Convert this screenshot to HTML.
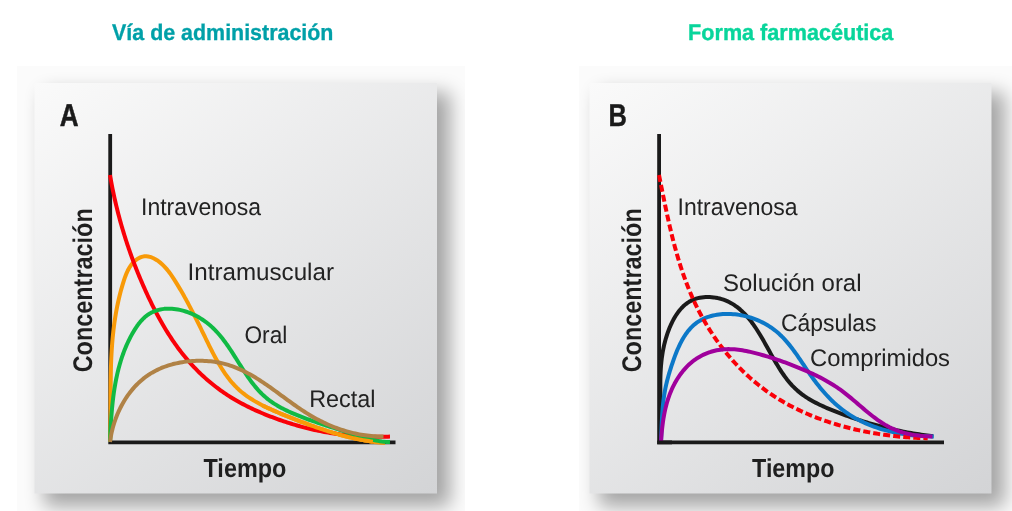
<!DOCTYPE html>
<html><head><meta charset="utf-8">
<style>
html,body{margin:0;padding:0;background:#fff;}
body{width:1012px;height:511px;overflow:hidden;font-family:"Liberation Sans",sans-serif;}
svg{display:block}
text{font-family:"Liberation Sans",sans-serif;text-rendering:geometricPrecision;}
</style></head><body>
<svg width="1012" height="511" viewBox="0 0 1012 511">
<defs>
<linearGradient id="pgA" gradientUnits="userSpaceOnUse" x1="34.5" y1="83" x2="365.7" y2="543.9">
<stop offset="0" stop-color="#fafafa"/>
<stop offset="1" stop-color="#d3d4d6"/>
</linearGradient>
<linearGradient id="pgB" gradientUnits="userSpaceOnUse" x1="589.5" y1="83" x2="920.7" y2="543.9">
<stop offset="0" stop-color="#fafafa"/>
<stop offset="1" stop-color="#d3d4d6"/>
</linearGradient>
<filter id="sh" x="-20%" y="-20%" width="140%" height="140%" color-interpolation-filters="sRGB">
<feGaussianBlur stdDeviation="9.5"/>
</filter>
<filter id="soft" x="-5%" y="-5%" width="110%" height="110%" color-interpolation-filters="sRGB"><feGaussianBlur stdDeviation="0.5"/></filter>
<clipPath id="clipA"><rect x="17" y="66" width="448" height="445"/></clipPath>
<clipPath id="clipB"><rect x="579" y="66" width="433" height="445"/></clipPath>
</defs>
<rect width="1012" height="511" fill="#ffffff"/>
<!-- titles -->
<g opacity="0.999">
<text x="112.1" y="39.5" font-size="22.5" font-weight="bold" fill="#00a0a8" stroke="#00a0a8" stroke-width="0.3" textLength="221.3" lengthAdjust="spacingAndGlyphs">Vía de administración</text>
<text x="688.1" y="39.5" font-size="22.5" font-weight="bold" fill="#08d59b" stroke="#08d59b" stroke-width="0.35" textLength="205.3" lengthAdjust="spacingAndGlyphs">Forma farmacéutica</text>
</g>

<!-- PANEL A -->
<g clip-path="url(#clipA)">
<rect x="17" y="66" width="448" height="445" fill="#fbfbfb"/>
<rect x="44" y="92.5" width="406" height="414" fill="#000" opacity="0.345" filter="url(#sh)"/>
<rect x="34.5" y="83" width="402.5" height="410.5" fill="url(#pgA)" filter="url(#soft)"/>
</g>
<!-- PANEL B -->
<g clip-path="url(#clipB)">
<rect x="579" y="66" width="433" height="445" fill="#fbfbfb"/>
<rect x="599" y="92.5" width="405.5" height="414" fill="#000" opacity="0.345" filter="url(#sh)"/>
<rect x="589.5" y="83" width="402" height="410.5" fill="url(#pgB)" filter="url(#soft)"/>
</g>
<g filter="url(#soft)">
<path d="M110.2 134 V444.3 M108.3 442.4 H395.5" stroke="#1a1a1a" stroke-width="3.8" fill="none"/>
<path d="M110.00 442.00 L110.06 439.97 L110.12 437.93 L110.17 435.90 L110.22 433.87 L110.26 431.84 L110.29 429.82 L110.33 427.79 L110.36 425.77 L110.38 423.75 L110.40 421.73 L110.42 419.71 L110.43 417.70 L110.45 415.68 L110.46 413.67 L110.47 411.66 L110.48 409.65 L110.48 407.64 L110.49 405.63 L110.50 403.63 L110.50 401.62 L110.51 399.62 L110.52 397.61 L110.52 395.61 L110.53 393.61 L110.55 391.61 L110.56 389.62 L110.57 387.62 L110.59 385.62 L110.61 383.63 L110.64 381.63 L110.66 379.64 L110.70 377.65 L110.73 375.66 L110.77 373.67 L110.82 371.68 L110.87 369.69 L110.92 367.70 L110.99 365.71 L111.06 363.72 L111.13 361.74 L111.21 359.75 L111.30 357.76 L111.40 355.78 L111.50 353.79 L111.62 351.81 L111.74 349.83 L111.87 347.84 L112.01 345.86 L112.16 343.88 L112.31 341.89 L112.48 339.91 L112.66 337.93 L112.85 335.95 L113.06 333.96 L113.27 331.98 L113.49 330.00 L113.73 328.02 L113.98 326.04 L114.24 324.06 L114.52 322.07 L114.81 320.09 L115.11 318.11 L115.43 316.13 L115.76 314.14 L116.11 312.16 L116.47 310.18 L116.85 308.20 L117.24 306.21 L117.65 304.23 L118.08 302.24 L118.52 300.26 L118.98 298.27 L119.46 296.29 L119.95 294.30 L120.46 292.31 L120.99 290.32 L121.54 288.34 L122.11 286.35 L122.70 284.36 L123.31 282.37 L123.94 280.38 L124.60 278.40 L125.30 276.44 L126.04 274.51 L126.84 272.61 L127.69 270.77 L128.62 268.98 L129.62 267.25 L130.70 265.60 L131.88 264.03 L133.16 262.56 L134.54 261.19 L136.03 259.94 L137.59 258.83 L139.24 257.90 L140.94 257.15 L142.69 256.62 L144.47 256.32 L146.28 256.27 L148.10 256.46 L149.92 256.87 L151.73 257.47 L153.52 258.25 L155.28 259.18 L156.99 260.23 L158.65 261.39 L160.24 262.64 L161.78 263.96 L163.25 265.36 L164.68 266.82 L166.05 268.34 L167.38 269.91 L168.66 271.52 L169.91 273.18 L171.12 274.87 L172.30 276.59 L173.45 278.32 L174.57 280.08 L175.67 281.83 L176.76 283.59 L177.82 285.35 L178.88 287.10 L179.92 288.86 L180.94 290.61 L181.95 292.36 L182.95 294.10 L183.94 295.85 L184.91 297.60 L185.88 299.34 L186.83 301.09 L187.78 302.83 L188.71 304.58 L189.64 306.33 L190.56 308.07 L191.47 309.82 L192.38 311.58 L193.28 313.33 L194.17 315.08 L195.06 316.84 L195.95 318.60 L196.83 320.37 L197.71 322.14 L198.59 323.91 L199.46 325.68 L200.34 327.46 L201.21 329.25 L202.08 331.04 L202.96 332.83 L203.83 334.63 L204.71 336.44 L205.59 338.25 L206.47 340.07 L207.36 341.89 L208.25 343.71 L209.15 345.54 L210.06 347.36 L210.97 349.19 L211.90 351.01 L212.83 352.83 L213.78 354.64 L214.74 356.44 L215.71 358.24 L216.69 360.02 L217.69 361.80 L218.71 363.56 L219.74 365.31 L220.80 367.04 L221.87 368.75 L222.96 370.45 L224.08 372.12 L225.21 373.78 L226.37 375.41 L227.56 377.02 L228.76 378.60 L230.00 380.15 L231.26 381.68 L232.55 383.18 L233.88 384.64 L235.23 386.07 L236.61 387.47 L238.02 388.83 L239.47 390.16 L240.95 391.45 L242.47 392.70 L244.01 393.92 L245.58 395.11 L247.18 396.26 L248.80 397.39 L250.45 398.48 L252.13 399.55 L253.83 400.59 L255.54 401.60 L257.28 402.60 L259.04 403.56 L260.81 404.51 L262.60 405.43 L264.41 406.34 L266.23 407.22 L268.06 408.09 L269.90 408.94 L271.76 409.78 L273.62 410.60 L275.49 411.42 L277.36 412.22 L279.24 413.01 L281.12 413.79 L283.01 414.56 L284.90 415.33 L286.78 416.09 L288.67 416.85 L290.55 417.60 L292.43 418.35 L294.31 419.10 L296.19 419.83 L298.07 420.57 L299.95 421.30 L301.83 422.02 L303.71 422.73 L305.59 423.44 L307.47 424.15 L309.35 424.84 L311.23 425.53 L313.11 426.21 L314.99 426.88 L316.87 427.54 L318.76 428.20 L320.64 428.84 L322.53 429.48 L324.42 430.10 L326.31 430.72 L328.20 431.32 L330.10 431.92 L332.00 432.50 L333.90 433.07 L335.81 433.64 L337.72 434.18 L339.63 434.72 L341.54 435.25 L343.46 435.76 L345.39 436.26 L347.31 436.74 L349.25 437.21 L351.18 437.67 L353.12 438.11 L355.07 438.54 L357.02 438.95 L358.98 439.35 L360.94 439.74 L362.91 440.10 L364.89 440.45 L366.87 440.79 L368.85 441.10 L370.85 441.40 L372.85 441.69 L374.85 441.95 L376.87 442.20 L378.89 442.43 L380.92 442.64 L382.96 442.83 L385.00 443.00" fill="none" stroke="#f89a08" stroke-width="4.0" stroke-linejoin="round" />
<path d="M110.00 175.00 L110.34 176.98 L110.69 178.95 L111.04 180.92 L111.41 182.89 L111.78 184.86 L112.16 186.83 L112.55 188.79 L112.95 190.75 L113.36 192.71 L113.77 194.67 L114.20 196.62 L114.63 198.58 L115.07 200.53 L115.52 202.48 L115.98 204.43 L116.44 206.37 L116.92 208.31 L117.40 210.25 L117.89 212.19 L118.39 214.13 L118.89 216.06 L119.41 217.99 L119.93 219.92 L120.46 221.85 L121.00 223.77 L121.55 225.70 L122.11 227.62 L122.67 229.53 L123.25 231.45 L123.83 233.36 L124.41 235.27 L125.01 237.18 L125.62 239.08 L126.23 240.99 L126.85 242.89 L127.48 244.78 L128.12 246.68 L128.76 248.57 L129.42 250.46 L130.08 252.35 L130.75 254.23 L131.42 256.11 L132.11 257.99 L132.80 259.87 L133.50 261.74 L134.21 263.61 L134.93 265.48 L135.65 267.34 L136.38 269.20 L137.12 271.06 L137.87 272.92 L138.63 274.77 L139.39 276.62 L140.16 278.47 L140.94 280.32 L141.73 282.16 L142.53 284.00 L143.33 285.83 L144.14 287.67 L144.96 289.50 L145.78 291.32 L146.62 293.15 L147.46 294.97 L148.31 296.78 L149.17 298.60 L150.03 300.41 L150.91 302.21 L151.79 304.01 L152.69 305.81 L153.59 307.60 L154.50 309.39 L155.43 311.17 L156.36 312.95 L157.30 314.72 L158.26 316.49 L159.22 318.26 L160.19 320.01 L161.18 321.76 L162.17 323.51 L163.18 325.25 L164.20 326.98 L165.23 328.70 L166.27 330.42 L167.33 332.13 L168.40 333.83 L169.48 335.52 L170.57 337.20 L171.67 338.88 L172.79 340.54 L173.92 342.19 L175.07 343.84 L176.22 345.47 L177.40 347.09 L178.58 348.70 L179.78 350.30 L181.00 351.89 L182.23 353.46 L183.47 355.03 L184.73 356.57 L186.00 358.11 L187.29 359.63 L188.59 361.14 L189.91 362.64 L191.24 364.12 L192.59 365.59 L193.95 367.04 L195.32 368.48 L196.71 369.91 L198.12 371.32 L199.53 372.72 L200.96 374.10 L202.41 375.46 L203.87 376.81 L205.34 378.14 L206.83 379.46 L208.33 380.76 L209.85 382.05 L211.38 383.32 L212.92 384.57 L214.48 385.80 L216.05 387.02 L217.64 388.22 L219.23 389.41 L220.85 390.57 L222.47 391.72 L224.11 392.85 L225.76 393.96 L227.43 395.06 L229.11 396.13 L230.80 397.19 L232.50 398.23 L234.21 399.26 L235.94 400.26 L237.68 401.26 L239.42 402.23 L241.18 403.19 L242.95 404.13 L244.73 405.06 L246.51 405.97 L248.31 406.87 L250.11 407.75 L251.92 408.62 L253.74 409.47 L255.57 410.31 L257.41 411.13 L259.25 411.94 L261.10 412.74 L262.95 413.52 L264.81 414.29 L266.68 415.05 L268.55 415.79 L270.43 416.52 L272.31 417.24 L274.19 417.95 L276.08 418.64 L277.97 419.33 L279.87 420.00 L281.77 420.66 L283.67 421.31 L285.58 421.94 L287.49 422.56 L289.40 423.17 L291.32 423.77 L293.23 424.36 L295.16 424.93 L297.08 425.49 L299.01 426.04 L300.94 426.57 L302.87 427.09 L304.81 427.60 L306.74 428.09 L308.69 428.57 L310.63 429.04 L312.57 429.49 L314.52 429.93 L316.47 430.36 L318.42 430.77 L320.38 431.16 L322.33 431.55 L324.29 431.92 L326.25 432.28 L328.21 432.62 L330.18 432.95 L332.15 433.26 L334.11 433.56 L336.09 433.85 L338.06 434.13 L340.03 434.38 L342.01 434.63 L343.99 434.86 L345.97 435.08 L347.96 435.28 L349.94 435.47 L351.93 435.65 L353.92 435.81 L355.91 435.96 L357.90 436.10 L359.90 436.22 L361.89 436.34 L363.89 436.43 L365.89 436.52 L367.89 436.59 L369.89 436.65 L371.90 436.70 L373.90 436.73 L375.91 436.76 L377.92 436.77 L379.93 436.77 L381.94 436.76 L383.95 436.74 L385.97 436.70 L387.98 436.66 L390.00 436.60" fill="none" stroke="#fa0008" stroke-width="4.0" stroke-linejoin="round" />
<path d="M110.00 442.00 L110.08 440.01 L110.16 438.02 L110.25 436.03 L110.34 434.03 L110.43 432.03 L110.53 430.03 L110.63 428.03 L110.74 426.02 L110.86 424.02 L110.98 422.01 L111.11 420.00 L111.25 418.00 L111.39 415.99 L111.55 413.98 L111.71 411.98 L111.88 409.97 L112.07 407.97 L112.26 405.96 L112.46 403.96 L112.68 401.96 L112.91 399.97 L113.15 397.97 L113.40 395.98 L113.67 393.99 L113.95 392.01 L114.25 390.03 L114.56 388.05 L114.89 386.08 L115.23 384.11 L115.59 382.15 L115.96 380.19 L116.35 378.24 L116.76 376.29 L117.19 374.35 L117.64 372.42 L118.11 370.49 L118.59 368.57 L119.10 366.66 L119.63 364.75 L120.17 362.86 L120.74 360.97 L121.33 359.09 L121.95 357.22 L122.59 355.35 L123.25 353.50 L123.93 351.65 L124.65 349.81 L125.39 347.98 L126.16 346.15 L126.96 344.31 L127.80 342.48 L128.67 340.65 L129.58 338.81 L130.53 336.96 L131.51 335.11 L132.54 333.26 L133.61 331.42 L134.72 329.59 L135.87 327.80 L137.07 326.04 L138.31 324.34 L139.60 322.68 L140.93 321.09 L142.32 319.58 L143.74 318.15 L145.22 316.81 L146.75 315.58 L148.32 314.45 L149.94 313.43 L151.61 312.52 L153.32 311.71 L155.06 310.99 L156.84 310.38 L158.65 309.86 L160.48 309.44 L162.35 309.11 L164.24 308.86 L166.14 308.71 L168.07 308.64 L170.01 308.65 L171.96 308.75 L173.91 308.92 L175.88 309.17 L177.84 309.49 L179.81 309.89 L181.77 310.35 L183.72 310.89 L185.67 311.49 L187.60 312.15 L189.52 312.87 L191.42 313.66 L193.29 314.49 L195.15 315.39 L196.97 316.34 L198.77 317.33 L200.53 318.38 L202.26 319.47 L203.95 320.61 L205.60 321.78 L207.20 323.00 L208.76 324.26 L210.29 325.55 L211.77 326.87 L213.22 328.24 L214.63 329.63 L216.01 331.05 L217.35 332.51 L218.67 333.99 L219.96 335.49 L221.22 337.03 L222.46 338.58 L223.68 340.16 L224.87 341.75 L226.05 343.37 L227.21 345.01 L228.35 346.65 L229.48 348.32 L230.60 350.00 L231.70 351.68 L232.80 353.38 L233.89 355.09 L234.98 356.81 L236.06 358.52 L237.14 360.25 L238.22 361.97 L239.30 363.70 L240.38 365.43 L241.47 367.15 L242.56 368.86 L243.67 370.57 L244.78 372.28 L245.90 373.97 L247.03 375.64 L248.18 377.31 L249.34 378.96 L250.52 380.59 L251.72 382.20 L252.94 383.78 L254.17 385.35 L255.44 386.89 L256.72 388.40 L258.03 389.89 L259.37 391.34 L260.74 392.76 L262.14 394.15 L263.58 395.50 L265.04 396.81 L266.54 398.08 L268.08 399.32 L269.65 400.51 L271.25 401.66 L272.88 402.78 L274.54 403.87 L276.23 404.92 L277.94 405.94 L279.67 406.93 L281.43 407.89 L283.20 408.83 L284.99 409.73 L286.80 410.62 L288.62 411.48 L290.45 412.31 L292.29 413.13 L294.14 413.93 L296.00 414.71 L297.86 415.47 L299.72 416.22 L301.59 416.95 L303.47 417.67 L305.35 418.37 L307.23 419.07 L309.12 419.75 L311.00 420.42 L312.90 421.08 L314.79 421.73 L316.69 422.37 L318.59 423.01 L320.49 423.64 L322.40 424.26 L324.31 424.88 L326.21 425.50 L328.12 426.11 L330.03 426.72 L331.94 427.32 L333.85 427.93 L335.76 428.54 L337.67 429.15 L339.58 429.75 L341.49 430.37 L343.39 430.98 L345.30 431.60 L347.20 432.23 L349.11 432.85 L351.01 433.48 L352.91 434.11 L354.82 434.73 L356.72 435.34 L358.63 435.95 L360.54 436.54 L362.46 437.12 L364.37 437.68 L366.30 438.21 L368.23 438.73 L370.16 439.22 L372.10 439.68 L374.05 440.11 L376.01 440.50 L377.98 440.86 L379.95 441.18 L381.94 441.46 L383.94 441.69 L385.95 441.88 L387.97 442.02 L390.00 442.10" fill="none" stroke="#10ba44" stroke-width="4.0" stroke-linejoin="round" />
<path d="M262.60 405.43 L264.41 406.34 L266.23 407.22 L268.06 408.09 L269.90 408.94 L271.76 409.78 L273.62 410.60 L275.49 411.42 L277.36 412.22 L279.24 413.01 L281.12 413.79 L283.01 414.56 L284.90 415.33 L286.78 416.09 L288.67 416.85 L290.55 417.60 L292.43 418.35 L294.31 419.10 L296.19 419.83 L298.07 420.57 L299.95 421.30 L301.83 422.02 L303.71 422.73 L305.59 423.44 L307.47 424.15 L309.35 424.84 L311.23 425.53 L313.11 426.21 L314.99 426.88 L316.87 427.54 L318.76 428.20 L320.64 428.84 L322.53 429.48 L324.42 430.10 L326.31 430.72 L328.20 431.32 L330.10 431.92 L332.00 432.50 L333.90 433.07 L335.81 433.64 L337.72 434.18 L339.63 434.72 L341.54 435.25 L343.46 435.76 L345.39 436.26 L347.31 436.74 L349.25 437.21 L351.18 437.67 L353.12 438.11 L355.07 438.54 L357.02 438.95 L358.98 439.35 L360.94 439.74 L362.91 440.10 L364.89 440.45 L366.87 440.79 L368.85 441.10 L370.85 441.40 L372.85 441.69" fill="none" stroke="#f89a08" stroke-width="4.0" stroke-linejoin="round" />
<path d="M110.00 442.00 L110.27 440.03 L110.58 438.06 L110.92 436.10 L111.30 434.13 L111.72 432.17 L112.18 430.21 L112.67 428.26 L113.21 426.31 L113.77 424.38 L114.38 422.45 L115.02 420.53 L115.70 418.63 L116.42 416.73 L117.17 414.86 L117.95 412.99 L118.78 411.14 L119.63 409.31 L120.53 407.50 L121.46 405.71 L122.42 403.94 L123.42 402.19 L124.45 400.47 L125.52 398.76 L126.62 397.09 L127.76 395.44 L128.93 393.82 L130.13 392.23 L131.37 390.67 L132.64 389.14 L133.94 387.64 L135.28 386.18 L136.65 384.75 L138.05 383.36 L139.49 382.00 L140.96 380.68 L142.46 379.41 L143.99 378.17 L145.55 376.98 L147.15 375.83 L148.78 374.72 L150.44 373.66 L152.12 372.64 L153.84 371.67 L155.59 370.74 L157.36 369.86 L159.15 369.02 L160.97 368.22 L162.81 367.46 L164.68 366.75 L166.56 366.08 L168.47 365.45 L170.39 364.86 L172.32 364.31 L174.28 363.81 L176.25 363.34 L178.23 362.92 L180.22 362.53 L182.22 362.18 L184.24 361.88 L186.26 361.61 L188.29 361.37 L190.32 361.18 L192.36 361.03 L194.40 360.91 L196.45 360.83 L198.50 360.79 L200.54 360.79 L202.58 360.82 L204.62 360.90 L206.66 361.01 L208.69 361.17 L210.71 361.36 L212.72 361.59 L214.72 361.87 L216.71 362.18 L218.69 362.54 L220.65 362.94 L222.59 363.38 L224.52 363.86 L226.43 364.38 L228.33 364.94 L230.20 365.54 L232.06 366.18 L233.91 366.85 L235.74 367.56 L237.56 368.30 L239.36 369.08 L241.14 369.89 L242.92 370.72 L244.68 371.59 L246.43 372.49 L248.17 373.41 L249.90 374.35 L251.62 375.32 L253.33 376.32 L255.03 377.33 L256.72 378.37 L258.41 379.42 L260.08 380.49 L261.75 381.58 L263.41 382.69 L265.07 383.81 L266.72 384.94 L268.37 386.08 L270.01 387.24 L271.65 388.40 L273.29 389.57 L274.92 390.75 L276.55 391.94 L278.19 393.13 L279.81 394.32 L281.44 395.51 L283.07 396.71 L284.70 397.90 L286.33 399.10 L287.97 400.29 L289.60 401.48 L291.24 402.66 L292.88 403.83 L294.53 405.00 L296.18 406.16 L297.83 407.30 L299.50 408.44 L301.16 409.57 L302.84 410.68 L304.52 411.77 L306.21 412.85 L307.90 413.91 L309.61 414.95 L311.33 415.97 L313.05 416.98 L314.79 417.96 L316.53 418.92 L318.29 419.85 L320.05 420.77 L321.83 421.66 L323.61 422.53 L325.40 423.38 L327.21 424.20 L329.02 425.00 L330.84 425.78 L332.67 426.53 L334.51 427.25 L336.37 427.96 L338.22 428.63 L340.09 429.29 L341.97 429.91 L343.86 430.51 L345.76 431.09 L347.66 431.63 L349.58 432.15 L351.50 432.65 L353.43 433.11 L355.38 433.55 L357.33 433.96 L359.29 434.34 L361.26 434.70 L363.24 435.02 L365.22 435.31 L367.22 435.58 L369.22 435.81 L371.24 436.02 L373.26 436.19 L375.29 436.34 L377.33 436.45 L379.38 436.53 L381.44 436.58 L383.50 436.60" fill="none" stroke="#b08246" stroke-width="4.0" stroke-linejoin="round" />
<text x="59.7" y="125.7" font-size="31.5" font-weight="bold" fill="#1a1a1a" stroke="#1a1a1a" stroke-width="0.5" textLength="18.85" lengthAdjust="spacingAndGlyphs">A</text>
<text x="141" y="215.2" font-size="24" fill="#222" textLength="120" lengthAdjust="spacingAndGlyphs">Intravenosa</text>
<text x="187.5" y="279.7" font-size="24" fill="#222" textLength="146.5" lengthAdjust="spacingAndGlyphs">Intramuscular</text>
<text x="244.5" y="342.5" font-size="24" fill="#222" textLength="42.8" lengthAdjust="spacingAndGlyphs">Oral</text>
<text x="309.2" y="407.3" font-size="24" fill="#222" textLength="66.3" lengthAdjust="spacingAndGlyphs">Rectal</text>
<text transform="translate(92.3 372.3) rotate(-90)" font-size="27" font-weight="bold" fill="#1f1f1f" textLength="164" lengthAdjust="spacingAndGlyphs">Concentración</text>
<text x="203.5" y="477" font-size="26" font-weight="bold" fill="#1f1f1f" textLength="82.8" lengthAdjust="spacingAndGlyphs">Tiempo</text>
</g>
<g filter="url(#soft)">
<path d="M659.1 134 V444.3 M657.2 442.4 H944" stroke="#1a1a1a" stroke-width="3.8" fill="none"/>
<path d="M660.50 442.00 L660.63 439.98 L660.73 437.95 L660.82 435.93 L660.89 433.91 L660.95 431.90 L660.99 429.88 L661.02 427.87 L661.03 425.85 L661.03 423.84 L661.02 421.83 L661.01 419.83 L660.98 417.82 L660.94 415.82 L660.90 413.81 L660.86 411.81 L660.81 409.81 L660.76 407.81 L660.71 405.82 L660.65 403.82 L660.60 401.83 L660.54 399.84 L660.50 397.84 L660.45 395.86 L660.41 393.87 L660.37 391.88 L660.35 389.90 L660.33 387.91 L660.32 385.93 L660.32 383.95 L660.33 381.97 L660.35 379.99 L660.39 378.02 L660.45 376.04 L660.52 374.07 L660.60 372.10 L660.71 370.13 L660.83 368.16 L660.98 366.19 L661.14 364.22 L661.33 362.26 L661.54 360.29 L661.78 358.33 L662.04 356.37 L662.34 354.41 L662.65 352.45 L663.00 350.49 L663.38 348.54 L663.79 346.58 L664.23 344.63 L664.71 342.67 L665.22 340.72 L665.77 338.77 L666.36 336.82 L666.98 334.88 L667.64 332.93 L668.34 330.98 L669.09 329.04 L669.87 327.11 L670.70 325.19 L671.58 323.29 L672.50 321.42 L673.47 319.57 L674.48 317.77 L675.54 316.00 L676.66 314.28 L677.82 312.62 L679.03 311.01 L680.30 309.47 L681.62 307.99 L683.00 306.59 L684.43 305.27 L685.92 304.04 L687.46 302.89 L689.07 301.85 L690.73 300.90 L692.45 300.06 L694.23 299.33 L696.06 298.70 L697.93 298.17 L699.84 297.75 L701.78 297.42 L703.74 297.19 L705.73 297.05 L707.73 297.00 L709.73 297.04 L711.75 297.18 L713.75 297.39 L715.75 297.70 L717.74 298.08 L719.70 298.55 L721.64 299.09 L723.54 299.71 L725.41 300.41 L727.23 301.18 L729.01 302.02 L730.74 302.92 L732.43 303.89 L734.08 304.93 L735.69 306.03 L737.25 307.18 L738.78 308.39 L740.27 309.65 L741.73 310.96 L743.15 312.32 L744.54 313.73 L745.90 315.18 L747.23 316.66 L748.52 318.19 L749.79 319.75 L751.04 321.35 L752.25 322.97 L753.45 324.62 L754.62 326.30 L755.77 328.00 L756.89 329.72 L758.00 331.46 L759.09 333.22 L760.17 334.98 L761.23 336.76 L762.27 338.54 L763.30 340.33 L764.32 342.12 L765.33 343.92 L766.33 345.71 L767.33 347.50 L768.32 349.29 L769.31 351.08 L770.29 352.86 L771.28 354.64 L772.27 356.41 L773.26 358.17 L774.25 359.92 L775.26 361.65 L776.27 363.38 L777.29 365.09 L778.32 366.79 L779.37 368.47 L780.43 370.14 L781.51 371.78 L782.60 373.41 L783.72 375.01 L784.86 376.59 L786.02 378.15 L787.20 379.68 L788.42 381.19 L789.66 382.67 L790.93 384.12 L792.23 385.54 L793.56 386.92 L794.94 388.28 L796.34 389.60 L797.79 390.89 L799.27 392.14 L800.80 393.35 L802.36 394.53 L803.95 395.68 L805.58 396.79 L807.25 397.88 L808.94 398.93 L810.66 399.95 L812.40 400.95 L814.17 401.92 L815.96 402.86 L817.77 403.78 L819.60 404.68 L821.45 405.56 L823.30 406.41 L825.18 407.25 L827.06 408.07 L828.95 408.87 L830.85 409.66 L832.75 410.43 L834.65 411.19 L836.56 411.93 L838.46 412.67 L840.36 413.40 L842.26 414.11 L844.16 414.82 L846.06 415.51 L847.96 416.20 L849.85 416.87 L851.75 417.54 L853.64 418.19 L855.54 418.84 L857.43 419.47 L859.33 420.09 L861.23 420.71 L863.12 421.31 L865.02 421.90 L866.92 422.49 L868.82 423.06 L870.72 423.62 L872.62 424.17 L874.52 424.71 L876.42 425.24 L878.33 425.77 L880.24 426.28 L882.15 426.78 L884.06 427.27 L885.98 427.75 L887.90 428.22 L889.82 428.68 L891.74 429.13 L893.67 429.57 L895.60 429.99 L897.54 430.41 L899.48 430.82 L901.42 431.22 L903.37 431.61 L905.32 431.98 L907.28 432.35 L909.24 432.71 L911.20 433.06 L913.17 433.39 L915.15 433.72 L917.13 434.04 L919.12 434.34 L921.11 434.64 L923.11 434.92 L925.12 435.20 L927.13 435.47 L929.14 435.72 L931.17 435.97 L933.20 436.20" fill="none" stroke="#1a1a1a" stroke-width="4.0" stroke-linejoin="round" />
<path d="M661.00 442.00 L661.09 439.97 L661.17 437.93 L661.24 435.90 L661.32 433.87 L661.40 431.85 L661.47 429.82 L661.55 427.80 L661.63 425.77 L661.72 423.76 L661.81 421.74 L661.91 419.73 L662.02 417.72 L662.13 415.71 L662.26 413.71 L662.40 411.72 L662.55 409.72 L662.71 407.74 L662.89 405.75 L663.09 403.78 L663.31 401.81 L663.54 399.84 L663.80 397.88 L664.07 395.93 L664.37 393.98 L664.70 392.05 L665.05 390.12 L665.42 388.19 L665.82 386.27 L666.25 384.36 L666.70 382.45 L667.17 380.54 L667.67 378.64 L668.19 376.73 L668.73 374.82 L669.29 372.91 L669.87 371.00 L670.47 369.08 L671.08 367.15 L671.72 365.21 L672.37 363.26 L673.04 361.31 L673.73 359.35 L674.44 357.38 L675.17 355.42 L675.92 353.47 L676.70 351.53 L677.51 349.60 L678.35 347.68 L679.22 345.79 L680.12 343.92 L681.05 342.08 L682.02 340.28 L683.03 338.50 L684.08 336.77 L685.17 335.08 L686.30 333.44 L687.48 331.85 L688.70 330.32 L689.98 328.84 L691.30 327.42 L692.67 326.07 L694.09 324.79 L695.57 323.58 L697.11 322.45 L698.70 321.39 L700.34 320.41 L702.03 319.51 L703.77 318.67 L705.54 317.91 L707.35 317.22 L709.20 316.60 L711.08 316.04 L713.00 315.56 L714.93 315.14 L716.89 314.78 L718.87 314.49 L720.87 314.27 L722.88 314.10 L724.90 314.00 L726.93 313.95 L728.96 313.97 L731.00 314.04 L733.03 314.17 L735.07 314.35 L737.09 314.59 L739.12 314.89 L741.13 315.24 L743.14 315.64 L745.13 316.09 L747.11 316.59 L749.08 317.15 L751.03 317.75 L752.97 318.41 L754.88 319.11 L756.78 319.86 L758.65 320.66 L760.50 321.50 L762.33 322.39 L764.12 323.32 L765.89 324.30 L767.63 325.32 L769.33 326.38 L771.01 327.49 L772.64 328.64 L774.24 329.82 L775.80 331.05 L777.33 332.31 L778.81 333.61 L780.26 334.94 L781.68 336.31 L783.06 337.71 L784.42 339.14 L785.74 340.60 L787.04 342.08 L788.32 343.59 L789.57 345.13 L790.81 346.68 L792.02 348.25 L793.22 349.85 L794.40 351.46 L795.57 353.08 L796.72 354.71 L797.87 356.36 L799.01 358.02 L800.14 359.69 L801.27 361.36 L802.40 363.03 L803.52 364.71 L804.65 366.39 L805.78 368.07 L806.92 369.75 L808.06 371.43 L809.21 373.10 L810.37 374.76 L811.54 376.41 L812.73 378.06 L813.93 379.69 L815.14 381.31 L816.36 382.92 L817.60 384.52 L818.85 386.10 L820.12 387.67 L821.41 389.22 L822.71 390.76 L824.03 392.28 L825.36 393.78 L826.71 395.26 L828.08 396.72 L829.46 398.16 L830.87 399.58 L832.29 400.97 L833.74 402.35 L835.20 403.69 L836.68 405.02 L838.19 406.31 L839.71 407.58 L841.26 408.82 L842.83 410.03 L844.42 411.22 L846.04 412.37 L847.67 413.49 L849.33 414.58 L851.01 415.64 L852.71 416.67 L854.43 417.68 L856.17 418.65 L857.93 419.59 L859.71 420.50 L861.50 421.39 L863.31 422.25 L865.14 423.08 L866.98 423.88 L868.83 424.65 L870.70 425.40 L872.58 426.12 L874.48 426.81 L876.38 427.47 L878.30 428.11 L880.23 428.73 L882.17 429.32 L884.12 429.88 L886.07 430.41 L888.03 430.93 L890.01 431.41 L891.98 431.88 L893.97 432.32 L895.95 432.73 L897.95 433.12 L899.94 433.49 L901.94 433.83 L903.94 434.15 L905.95 434.45 L907.95 434.73 L909.95 434.98 L911.96 435.22 L913.96 435.43 L915.96 435.62 L917.96 435.78 L919.96 435.93 L921.95 436.06 L923.94 436.16 L925.93 436.25 L927.91 436.32 L929.88 436.36 L931.84 436.39 L933.80 436.40" fill="none" stroke="#0c78c8" stroke-width="4.0" stroke-linejoin="round" />
<path d="M659.00 175.00 L659.39 176.92 L659.78 178.84 L660.16 180.76 L660.55 182.69 L660.94 184.62 L661.32 186.55 L661.71 188.49 L662.10 190.43 L662.50 192.37 L662.89 194.32 L663.28 196.26 L663.68 198.21 L664.08 200.16 L664.48 202.12 L664.89 204.07 L665.30 206.03 L665.71 207.99 L666.13 209.95 L666.54 211.91 L666.97 213.87 L667.39 215.84 L667.83 217.80 L668.26 219.76 L668.70 221.73 L669.15 223.69 L669.60 225.65 L670.06 227.62 L670.52 229.58 L670.99 231.54 L671.46 233.51 L671.94 235.47 L672.43 237.43 L672.92 239.39 L673.43 241.34 L673.93 243.30 L674.45 245.25 L674.97 247.20 L675.51 249.15 L676.05 251.10 L676.60 253.05 L677.15 254.99 L677.72 256.93 L678.29 258.87 L678.88 260.80 L679.47 262.73 L680.08 264.66 L680.69 266.58 L681.32 268.50 L681.95 270.42 L682.60 272.33 L683.25 274.24 L683.92 276.14 L684.60 278.04 L685.29 279.93 L685.99 281.82 L686.70 283.70 L687.43 285.58 L688.17 287.45 L688.92 289.32 L689.68 291.18 L690.46 293.04 L691.25 294.89 L692.06 296.73 L692.87 298.57 L693.71 300.40 L694.55 302.22 L695.41 304.04 L696.29 305.85 L697.17 307.65 L698.07 309.44 L698.99 311.23 L699.92 313.01 L700.86 314.78 L701.82 316.54 L702.79 318.30 L703.77 320.05 L704.77 321.78 L705.78 323.51 L706.81 325.24 L707.85 326.95 L708.90 328.65 L709.96 330.34 L711.04 332.03 L712.14 333.70 L713.24 335.37 L714.36 337.02 L715.49 338.67 L716.64 340.30 L717.80 341.93 L718.97 343.54 L720.16 345.14 L721.36 346.74 L722.57 348.32 L723.79 349.89 L725.03 351.45 L726.28 352.99 L727.55 354.53 L728.83 356.05 L730.12 357.56 L731.42 359.06 L732.74 360.55 L734.06 362.03 L735.41 363.49 L736.76 364.94 L738.13 366.38 L739.51 367.80 L740.90 369.21 L742.31 370.61 L743.73 371.99 L745.16 373.36 L746.60 374.72 L748.06 376.06 L749.53 377.39 L751.01 378.71 L752.51 380.01 L754.01 381.29 L755.53 382.56 L757.06 383.82 L758.61 385.06 L760.16 386.28 L761.73 387.49 L763.31 388.69 L764.91 389.87 L766.51 391.03 L768.13 392.18 L769.76 393.31 L771.40 394.42 L773.05 395.52 L774.72 396.60 L776.39 397.67 L778.08 398.72 L779.78 399.76 L781.49 400.78 L783.21 401.78 L784.94 402.77 L786.68 403.75 L788.43 404.71 L790.18 405.65 L791.95 406.58 L793.73 407.50 L795.52 408.39 L797.31 409.28 L799.12 410.15 L800.93 411.00 L802.75 411.84 L804.58 412.67 L806.42 413.48 L808.27 414.28 L810.12 415.06 L811.98 415.82 L813.85 416.58 L815.72 417.32 L817.60 418.04 L819.49 418.75 L821.38 419.45 L823.29 420.13 L825.19 420.80 L827.10 421.46 L829.02 422.10 L830.94 422.73 L832.87 423.34 L834.81 423.94 L836.74 424.53 L838.69 425.10 L840.63 425.66 L842.58 426.21 L844.54 426.75 L846.50 427.27 L848.46 427.77 L850.43 428.27 L852.40 428.75 L854.37 429.22 L856.35 429.68 L858.32 430.12 L860.30 430.55 L862.29 430.97 L864.27 431.38 L866.26 431.77 L868.25 432.15 L870.24 432.52 L872.23 432.88 L874.22 433.22 L876.21 433.56 L878.21 433.88 L880.20 434.19 L882.19 434.48 L884.19 434.77 L886.18 435.04 L888.18 435.30 L890.17 435.56 L892.16 435.79 L894.16 436.02 L896.15 436.24 L898.14 436.44 L900.13 436.64 L902.11 436.82 L904.10 436.99 L906.08 437.15 L908.06 437.30 L910.04 437.44 L912.01 437.56 L913.99 437.68 L915.96 437.79 L917.92 437.88 L919.89 437.97 L921.84 438.04 L923.80 438.10 L925.75 438.16 L927.70 438.20" fill="none" stroke="#fa0008" stroke-width="4.0" stroke-linejoin="round" stroke-dasharray="7 3.1"/>
<path d="M661.00 442.00 L661.13 440.04 L661.27 438.08 L661.43 436.12 L661.59 434.14 L661.77 432.17 L661.96 430.19 L662.17 428.20 L662.40 426.22 L662.65 424.23 L662.92 422.25 L663.21 420.26 L663.52 418.28 L663.85 416.30 L664.21 414.32 L664.60 412.35 L665.02 410.38 L665.47 408.42 L665.94 406.46 L666.45 404.51 L666.99 402.57 L667.57 400.64 L668.18 398.72 L668.83 396.81 L669.52 394.91 L670.24 393.02 L671.01 391.15 L671.82 389.29 L672.67 387.44 L673.57 385.62 L674.51 383.81 L675.49 382.03 L676.51 380.27 L677.58 378.53 L678.69 376.83 L679.84 375.16 L681.03 373.52 L682.26 371.92 L683.53 370.36 L684.84 368.84 L686.20 367.36 L687.59 365.93 L689.02 364.55 L690.50 363.22 L692.01 361.94 L693.56 360.71 L695.15 359.55 L696.78 358.44 L698.45 357.40 L700.15 356.41 L701.88 355.49 L703.64 354.62 L705.44 353.82 L707.25 353.08 L709.10 352.41 L710.96 351.79 L712.85 351.24 L714.76 350.75 L716.68 350.32 L718.61 349.96 L720.56 349.66 L722.52 349.43 L724.49 349.26 L726.46 349.15 L728.44 349.11 L730.43 349.13 L732.41 349.21 L734.40 349.34 L736.39 349.52 L738.38 349.75 L740.38 350.02 L742.37 350.33 L744.36 350.68 L746.35 351.06 L748.34 351.48 L750.32 351.92 L752.30 352.38 L754.28 352.87 L756.25 353.37 L758.21 353.89 L760.17 354.42 L762.13 354.96 L764.07 355.52 L766.01 356.09 L767.95 356.68 L769.88 357.27 L771.80 357.88 L773.72 358.50 L775.64 359.14 L777.55 359.78 L779.45 360.44 L781.35 361.11 L783.24 361.78 L785.13 362.47 L787.01 363.17 L788.89 363.88 L790.76 364.60 L792.63 365.32 L794.49 366.06 L796.35 366.80 L798.20 367.55 L800.05 368.31 L801.89 369.08 L803.73 369.86 L805.56 370.65 L807.39 371.45 L809.21 372.26 L811.02 373.08 L812.83 373.91 L814.62 374.76 L816.41 375.63 L818.19 376.51 L819.96 377.40 L821.72 378.32 L823.47 379.25 L825.21 380.20 L826.94 381.17 L828.66 382.16 L830.37 383.17 L832.06 384.20 L833.74 385.26 L835.41 386.34 L837.06 387.44 L838.70 388.57 L840.33 389.73 L841.94 390.91 L843.54 392.11 L845.13 393.34 L846.70 394.58 L848.27 395.84 L849.83 397.12 L851.38 398.41 L852.93 399.70 L854.47 401.01 L856.01 402.32 L857.54 403.63 L859.08 404.95 L860.61 406.26 L862.15 407.58 L863.68 408.88 L865.23 410.18 L866.77 411.47 L868.32 412.74 L869.88 414.01 L871.45 415.25 L873.03 416.48 L874.62 417.68 L876.22 418.87 L877.83 420.02 L879.46 421.15 L881.10 422.25 L882.76 423.32 L884.44 424.35 L886.13 425.35 L887.85 426.31 L889.59 427.23 L891.35 428.10 L893.13 428.93 L894.94 429.71 L896.77 430.45 L898.63 431.13 L900.51 431.77 L902.41 432.36 L904.34 432.91 L906.28 433.41 L908.23 433.87 L910.20 434.29 L912.19 434.67 L914.19 435.01 L916.20 435.30 L918.22 435.56 L920.25 435.79 L922.28 435.97 L924.32 436.12 L926.36 436.24 L928.41 436.33 L930.45 436.38 L932.50 436.40" fill="none" stroke="#a0009c" stroke-width="4.0" stroke-linejoin="round" />
<path d="M657.2 442.4 H672" stroke="#1a1a1a" stroke-width="3.8" fill="none"/>
<text x="608.4" y="125.7" font-size="31.5" font-weight="bold" fill="#1a1a1a" stroke="#1a1a1a" stroke-width="0.4" textLength="18.4" lengthAdjust="spacingAndGlyphs">B</text>
<text x="677.6" y="215.4" font-size="24" fill="#222" textLength="120" lengthAdjust="spacingAndGlyphs">Intravenosa</text>
<text x="723" y="291.3" font-size="24" fill="#222" textLength="138.5" lengthAdjust="spacingAndGlyphs">Solución oral</text>
<text x="781" y="330.8" font-size="24" fill="#222" textLength="95.5" lengthAdjust="spacingAndGlyphs">Cápsulas</text>
<text x="810" y="366" font-size="24" fill="#222" textLength="140" lengthAdjust="spacingAndGlyphs">Comprimidos</text>
<text transform="translate(641.3 372.3) rotate(-90)" font-size="27" font-weight="bold" fill="#1f1f1f" textLength="164" lengthAdjust="spacingAndGlyphs">Concentración</text>
<text x="752.1" y="477" font-size="26" font-weight="bold" fill="#1f1f1f" textLength="82.4" lengthAdjust="spacingAndGlyphs">Tiempo</text>
</g>
</svg></body></html>
